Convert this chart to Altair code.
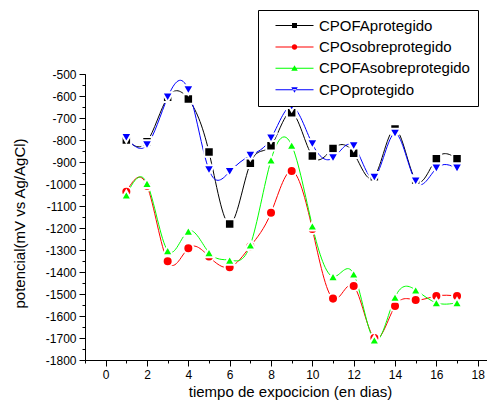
import altair as alt
import pandas as pd

# ---- data ----
days = list(range(1, 18))
series_names = ["CPOFAprotegido", "CPOsobreprotegido", "CPOFAsobreprotegido", "CPOprotegido"]
cpofa_protegido = [-800, -808, -606, -614, -855, -1182, -906, -826, -676, -873, -839, -860, -967, -750, -982, -885, -885]
cpo_sobreprotegido = [-1035, -1008, -1351, -1292, -1330, -1378, -1283, -1131, -941, -1205, -1521, -1464, -1700, -1555, -1527, -1509, -1509]
cpofa_sobreprotegido = [-1050, -997, -1303, -1214, -1312, -1346, -1277, -891, -824, -1191, -1421, -1409, -1709, -1515, -1482, -1540, -1540]
cpo_protegido = [-790, -823, -606, -573, -936, -944, -870, -792, -648, -818, -882, -827, -970, -770, -988, -929, -929]

x_major_ticks = [0, 2, 4, 6, 8, 10, 12, 14, 16, 18]
x_minor_ticks = list(range(-1, 19))
y_major_ticks = list(range(-1800, -499, 100))
y_minor_ticks = list(range(-1800, -499, 50))

colors = ["#000000", "#ff0000", "#00ff00", "#0000ff"]
marker_shapes = ["square", "circle", "triangle-up", "triangle-down"]
marker_sizes = [90, 121, 150, 150]
# legend glyphs: thin bar (the line) + small marker, all filled
legend_paths = [
    "M-7.6,-0.2H7.6V0.2H-7.6Z M-1,-1H1V1H-1Z",
    "M-7.6,-0.2H7.6V0.2H-7.6Z M-1.1,0A1.1,1.1,0,1,1,1.1,0A1.1,1.1,0,1,1,-1.1,0Z",
    "M-7.6,-0.2H7.6V0.2H-7.6Z M0,-1.2L1.3,1H-1.3Z",
    "M-7.6,-0.2H7.6V0.2H-7.6Z M0,1.2L1.3,-1H-1.3Z",
]

rows = []
for name, vals in zip(series_names, [cpofa_protegido, cpo_sobreprotegido, cpofa_sobreprotegido, cpo_protegido]):
    for d, v in zip(days, vals):
        rows.append({"dia": d, "potencial": v, "serie": name})
df = pd.DataFrame(rows)

FONT = "Liberation Sans"
x_dom = [-1, 18.45]
y_dom = [-1800, -500]

x_scale = alt.Scale(domain=x_dom, nice=False, zero=False)
y_scale = alt.Scale(domain=y_dom, nice=False, zero=False)

x_major = alt.Axis(orient="bottom", values=x_major_ticks, tickSize=6, labelFontSize=12, labelPadding=3,
                   title="tiempo de expocicion (en dias)", titleFontSize=15, titlePadding=4,
                   titleX=205, grid=False)
y_major = alt.Axis(orient="left", values=y_major_ticks, tickSize=6, labelFontSize=12, labelPadding=3,
                   labelExpr="'' + datum.value",
                   title="potencial(mV vs Ag/AgCl)", titleFontSize=15, titlePadding=18,
                   titleY=149, grid=False)
x_minor = alt.Axis(orient="bottom", values=x_minor_ticks, tickSize=3, labels=False, domain=False, title=None, grid=False)
y_minor = alt.Axis(orient="left", values=y_minor_ticks, tickSize=3, labels=False, domain=False, title=None, grid=False)

base = alt.Chart(df)

lines = base.mark_line(interpolate="natural", strokeWidth=1).encode(
    x=alt.X("dia:Q", scale=x_scale, axis=x_major),
    y=alt.Y("potencial:Q", scale=y_scale, axis=y_major),
    color=alt.Color("serie:N", scale=alt.Scale(domain=series_names, range=colors), legend=None),
    order=alt.Order("dia:Q"),
)

points = base.mark_point(filled=True, stroke="white", strokeWidth=2, opacity=1).encode(
    x=alt.X("dia:Q", scale=x_scale, axis=x_major),
    y=alt.Y("potencial:Q", scale=y_scale, axis=y_major),
    color=alt.Color("serie:N", scale=alt.Scale(domain=series_names, range=colors), legend=None),
    shape=alt.Shape("serie:N", scale=alt.Scale(domain=series_names, range=marker_shapes), legend=None),
    size=alt.Size("serie:N", scale=alt.Scale(domain=series_names, range=marker_sizes), legend=None),
)

leg = alt.Legend(title=None, orient="none", legendX=173, legendY=-64,
                 strokeColor="black", fillColor="white", padding=8,
                 labelFontSize=15, labelFont=FONT, labelColor="black",
                 symbolSize=25, symbolStrokeWidth=0, symbolOpacity=1,
                 symbolOffset=21, labelOffset=17,
                 rowPadding=5.4, labelExpr="datum.label + '    '")

legend_layer = base.mark_point(filled=True, opacity=0).encode(
    x=alt.X("dia:Q", scale=x_scale, axis=x_minor),
    y=alt.Y("potencial:Q", scale=y_scale, axis=y_minor),
    color=alt.Color("serie:N", scale=alt.Scale(domain=series_names, range=colors), legend=leg),
    shape=alt.Shape("serie:N", scale=alt.Scale(domain=series_names, range=legend_paths), legend=leg),
)

chart = alt.layer(
    legend_layer,
    alt.layer(lines, points),
).resolve_scale(
    x="independent", y="independent", shape="independent", color="independent"
).properties(
    width=402, height=286, autosize="none",
    padding={"left": 77, "top": 66, "right": 0, "bottom": 40},
).configure_view(stroke=None).configure_axis(
    domainColor="black", tickColor="black", labelColor="black", titleColor="black",
    labelFont=FONT, titleFont=FONT, titleFontWeight="normal", domainWidth=1, tickWidth=1,
)

chart.save("out.html", embed_options={"renderer": "svg", "actions": False})
